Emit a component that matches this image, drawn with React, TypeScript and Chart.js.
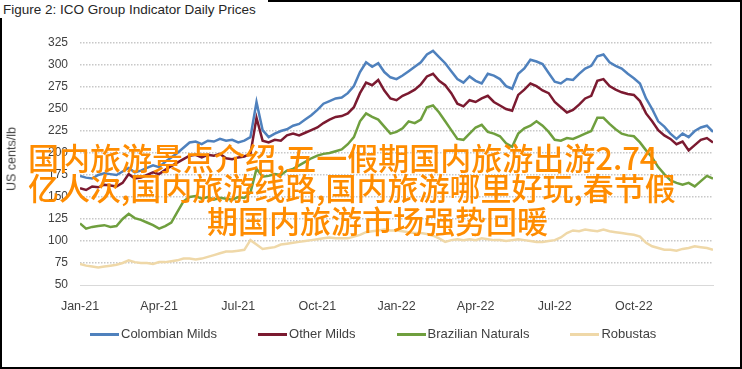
import React, { useEffect, useRef } from "react";
import { Chart, registerables } from "chart.js";

Chart.register(...registerables);

const seriesNames = ["Colombian Milds", "Other Milds", "Brazilian Naturals", "Robustas"];
const seriesColors = ["#4F81BD", "#7B1A30", "#6F9F3E", "#EFD8A8"];

const quarterLabels = ["Jan-21", "Apr-21", "Jul-21", "Oct-21", "Jan-22", "Apr-22", "Jul-22", "Oct-22"];
const quarterWeeks = [0, 13, 26, 39, 52, 65, 78, 91];

// weekly readings, week 0 = first week of Jan 2021, week 104 = end of Dec 2022
const colombianMilds = [
  174, 172, 171, 175, 177, 176, 175, 179, 183, 178,
  180, 183, 186, 184, 190, 195, 200, 206, 212, 213,
  210, 214, 213, 216, 214, 215, 212, 214, 218, 258,
  226, 218, 222, 225, 227, 231, 233, 238, 243, 249,
  256, 259, 262, 263, 268, 276, 292, 303, 298, 302,
  292, 286, 284, 288, 293, 298, 303, 312, 316, 309,
  302, 293, 284, 280, 287, 282, 279, 290, 288, 284,
  276, 273, 290, 296, 306, 304, 301, 291, 281, 279,
  284, 283, 290, 296, 299, 310, 312, 303, 299, 296,
  290, 285, 279, 262, 250, 236, 230, 222, 216, 222,
  218, 225, 229, 231, 224,
];
const otherMilds = [
  160, 158, 162, 161, 164, 163, 162, 166, 176, 171,
  172, 175, 178, 176, 181, 185, 189, 193, 197, 198,
  195, 198, 197, 199, 194, 193, 195, 196, 199, 240,
  214, 212, 215, 214, 220, 222, 220, 223, 226, 229,
  234, 238, 241, 242, 245, 252, 268, 280, 277, 283,
  271, 262, 260, 265, 268, 272, 278, 287, 290, 282,
  277, 268, 256, 253, 260, 258, 262, 265, 258, 254,
  250, 248, 266, 272, 279, 276, 271, 268, 258, 252,
  246, 249, 255, 262, 265, 282, 284, 276, 272, 269,
  267, 266, 259, 245, 236, 226, 220, 216, 210, 213,
  203, 209, 215, 217, 212,
];
const brazilianNaturals = [
  120, 114, 116, 117, 118, 116, 117, 125, 131, 126,
  124, 121, 118, 114, 117, 121, 133, 145, 150, 151,
  148, 150, 147, 149, 148, 147, 150, 149, 155, 182,
  173, 174, 176, 175, 180, 182, 186, 190, 194, 197,
  199, 200, 202, 204, 210, 218, 236, 245, 241, 238,
  230, 222, 224, 228, 236, 234, 238, 252, 254, 246,
  236, 226, 216, 215, 222, 229, 232, 224, 222, 219,
  211, 207, 222, 228, 231, 236, 231, 224, 215, 214,
  217, 216, 219, 222, 225, 240, 240, 233, 227, 222,
  220, 219, 212, 203, 195, 184, 176, 169, 166, 164,
  166, 162, 168, 174, 171,
];
const robustas = [
  74, 72, 71, 70, 71, 72, 73, 75, 78, 76,
  75, 75, 74, 76, 76, 77, 78, 80, 80, 79,
  80, 82, 84, 86, 88, 88, 89, 90, 101, 96,
  91, 92, 93, 96, 97, 98, 99, 100, 101, 102,
  103, 104, 103, 103, 103, 105, 107, 110, 111, 112,
  113, 112, 112, 111, 110, 109, 109, 108, 106, 103,
  99, 101, 102, 101, 102, 101, 103, 102, 101, 101,
  100, 101, 102, 101, 100, 99, 99, 100, 101, 104,
  109, 112, 111, 113, 112, 111, 113, 111, 110, 109,
  108, 107, 105, 98, 94, 92, 90, 90, 89, 91,
  92, 94, 93, 92, 90,
];

const titleText = "Figure 2: ICO Group Indicator Daily Prices";
const yAxisTitle = "US cents/lb";
const overlayLines = [
  "国内旅游景点介绍,五一假期国内旅游出游2.74",
  "亿人次,国内旅游线路,国内旅游哪里好玩,春节假",
  "期国内旅游市场强势回暖",
];
const overlayLeft = [28, 28, 207];
const overlayTop = [141, 171, 204];

const FONT = "'Liberation Sans', Arial, sans-serif";

export default function App() {
  const ref = useRef<HTMLCanvasElement>(null);

  useEffect(() => {
    const series = [colombianMilds, otherMilds, brazilianNaturals, robustas];
    const chart = new Chart(ref.current as HTMLCanvasElement, {
      type: "line",
      data: {
        datasets: series.map((vals, i) => ({
          label: seriesNames[i],
          data: vals.map((v, w) => ({ x: w, y: v })),
          borderColor: seriesColors[i],
          backgroundColor: seriesColors[i],
          borderWidth: 2.5,
          pointRadius: 0,
          tension: 0,
        })),
      },
      options: {
        animation: false,
        responsive: true,
        maintainAspectRatio: false,
        layout: { padding: { top: 43, right: 29, bottom: 54, left: 0 } },
        plugins: {
          legend: { display: false },
          tooltip: { enabled: false },
          title: { display: false },
        },
        scales: {
          x: {
            type: "linear",
            min: 0,
            max: 104,
            grid: { display: false },
            border: { display: true, color: "#D9D9D9", width: 1 },
            afterBuildTicks: (s: any) => {
              s.ticks = quarterWeeks.map((v) => ({ value: v }));
            },
            afterFit: (s: any) => {
              s.height = 30;
            },
            ticks: {
              autoSkip: false,
              maxRotation: 0,
              minRotation: 0,
              padding: 6,
              color: "#404040",
              font: { family: FONT, size: 12.5 },
              callback: (v: any) => {
                const idx = quarterWeeks.indexOf(Number(v));
                return idx >= 0 ? quarterLabels[idx] : "";
              },
            },
          },
          y: {
            min: 50,
            max: 325,
            afterFit: (s: any) => {
              s.width = 80;
            },
            ticks: {
              stepSize: 25,
              padding: 12,
              color: "#404040",
              font: { family: FONT, size: 12 },
            },
            grid: {
              drawTicks: false,
              lineWidth: 1.5,
              color: (c: any) => (c.tick && c.tick.value === 50 ? "rgba(0,0,0,0)" : "#C8C8C8"),
            },
            border: { display: false, dash: [1.5, 1.5] },
            title: { display: false },
          },
        },
      },
    });
    return () => chart.destroy();
  }, []);

  return (
    <div style={{ position: "absolute", left: 0, top: 0, width: 742, height: 369, background: "#fff", overflow: "hidden" }}>
      <canvas ref={ref} />
      <div
        style={{
          position: "absolute", left: 0, top: 0, width: 742, height: 369,
          boxSizing: "border-box", border: "2px solid #000", pointerEvents: "none",
        }}
      />
      <div
        style={{
          position: "absolute", left: 0, top: 0, width: 268, height: 18, background: "#fff",
          fontFamily: FONT, fontSize: 13.5, lineHeight: "20px", color: "#262626", paddingLeft: 3, boxSizing: "border-box",
          whiteSpace: "nowrap",
        }}
      >
        {titleText}
      </div>
      <div
        style={{
          position: "absolute", left: 12, top: 158.5, transform: "translate(-50%, -50%) rotate(-90deg)",
          fontFamily: FONT, fontSize: 12.5, lineHeight: "15px", color: "#404040", whiteSpace: "nowrap",
        }}
      >
        {yAxisTitle}
      </div>
      <div
        style={{
          position: "absolute", left: 90, top: 326, display: "flex", alignItems: "center",
          fontFamily: FONT, fontSize: 13, lineHeight: "16px", color: "#404040", whiteSpace: "nowrap",
        }}
      >
        {seriesNames.map((n, i) => (
          <div key={n} style={{ display: "flex", alignItems: "center", marginRight: 41 }}>
            <span style={{ display: "inline-block", width: 29, height: 3, background: seriesColors[i], marginRight: 2 }} />
            <span>{n}</span>
          </div>
        ))}
      </div>
      {overlayLines.map((l, i) => (
        <div
          key={l}
          style={{
            position: "absolute", left: overlayLeft[i], top: overlayTop[i],
            fontFamily: "'Noto Sans CJK SC', sans-serif", fontWeight: 500, fontSize: 31, lineHeight: "31px",
            color: "#FF8C00", whiteSpace: "nowrap", pointerEvents: "none",
          }}
        >
          {l}
        </div>
      ))}
    </div>
  );
}
